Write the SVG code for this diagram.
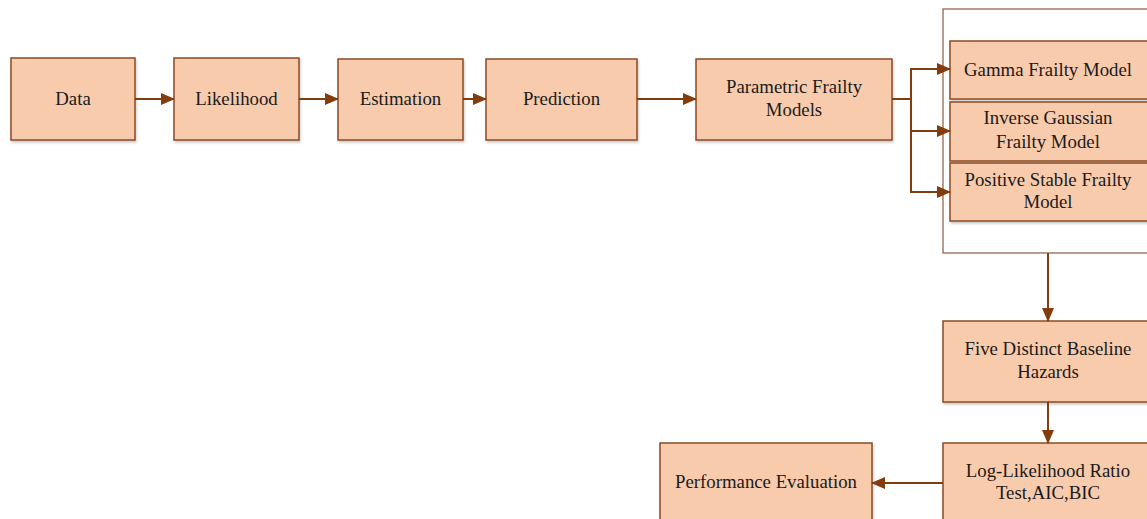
<svg xmlns="http://www.w3.org/2000/svg" width="1147" height="519" viewBox="0 0 1147 519">
<defs>
<marker id="ah" markerWidth="14" markerHeight="12" refX="13" refY="6" orient="auto" markerUnits="userSpaceOnUse">
<path d="M0,0 L14,6 L0,12 Z" fill="#843C0C"/>
</marker>
<filter id="sh" x="-5%" y="-5%" width="115%" height="120%">
<feDropShadow dx="1" dy="2" stdDeviation="1.2" flood-color="#000" flood-opacity="0.2"/>
</filter>
</defs>
<style>
.box{fill:#F8CBAD;stroke:#8B4A22;stroke-width:1.5;filter:url(#sh)}
.frame{fill:none;stroke:#8B5A3C;stroke-width:1.2}
.t{font-family:"Liberation Serif","Times New Roman",serif;font-size:18.8px;fill:#1a1a1a;text-anchor:middle}
.c{fill:none;stroke:#843C0C;stroke-width:2}
</style>
<rect width="1147" height="519" fill="#fff"/>
<g id="frame"><rect class="frame" x="943" y="9" width="210" height="244"/></g>
<g id="data"><rect class="box" x="11" y="58" width="124" height="82"/><text class="t" x="73" y="105">Data</text></g>
<g id="likelihood"><rect class="box" x="174" y="58" width="125" height="82"/><text class="t" x="236.5" y="105">Likelihood</text></g>
<g id="estimation"><rect class="box" x="338" y="59" width="125" height="81"/><text class="t" x="400.5" y="105">Estimation</text></g>
<g id="prediction"><rect class="box" x="486" y="59" width="151" height="81"/><text class="t" x="561.5" y="105">Prediction</text></g>
<g id="parametric"><rect class="box" x="696" y="59" width="196" height="81"/><text class="t" x="794" y="93">Parametric Frailty</text><text class="t" x="794" y="116">Models</text></g>
<g id="gamma"><rect class="box" x="950" y="41" width="200" height="58"/><text class="t" x="1048" y="76">Gamma Frailty Model</text></g>
<g id="inverse"><rect class="box" x="950" y="102" width="200" height="59"/><text class="t" x="1048" y="124">Inverse Gaussian</text><text class="t" x="1048" y="148">Frailty Model</text></g>
<g id="positive"><rect class="box" x="950" y="163" width="200" height="58"/><text class="t" x="1048" y="186">Positive Stable Frailty</text><text class="t" x="1048" y="208">Model</text></g>
<g id="five"><rect class="box" x="943" y="321" width="210" height="81"/><text class="t" x="1048" y="355">Five Distinct Baseline</text><text class="t" x="1048" y="378">Hazards</text></g>
<g id="loglik"><rect class="box" x="943" y="443" width="210" height="90"/><text class="t" x="1048" y="477">Log-Likelihood Ratio</text><text class="t" x="1048" y="499">Test,AIC,BIC</text></g>
<g id="performance"><rect class="box" x="660" y="443" width="212" height="90"/><text class="t" x="766" y="488">Performance Evaluation</text></g>
<g id="connectors">
<line class="c" x1="135" y1="99" x2="174" y2="99" marker-end="url(#ah)"/>
<line class="c" x1="299" y1="99" x2="338" y2="99" marker-end="url(#ah)"/>
<line class="c" x1="463" y1="99" x2="486" y2="99" marker-end="url(#ah)"/>
<line class="c" x1="637" y1="99" x2="696" y2="99" marker-end="url(#ah)"/>
<polyline class="c" points="892,99 911,99"/>
<line class="c" x1="911" y1="69" x2="911" y2="192"/>
<line class="c" x1="910" y1="69" x2="950" y2="69" marker-end="url(#ah)"/>
<line class="c" x1="911" y1="131" x2="950" y2="131" marker-end="url(#ah)"/>
<line class="c" x1="910" y1="192" x2="950" y2="192" marker-end="url(#ah)"/>
<line class="c" x1="1048" y1="253" x2="1048" y2="321" marker-end="url(#ah)"/>
<line class="c" x1="1048" y1="402" x2="1048" y2="443" marker-end="url(#ah)"/>
<line class="c" x1="943" y1="483" x2="872" y2="483" marker-end="url(#ah)"/>
</g>
</svg>
